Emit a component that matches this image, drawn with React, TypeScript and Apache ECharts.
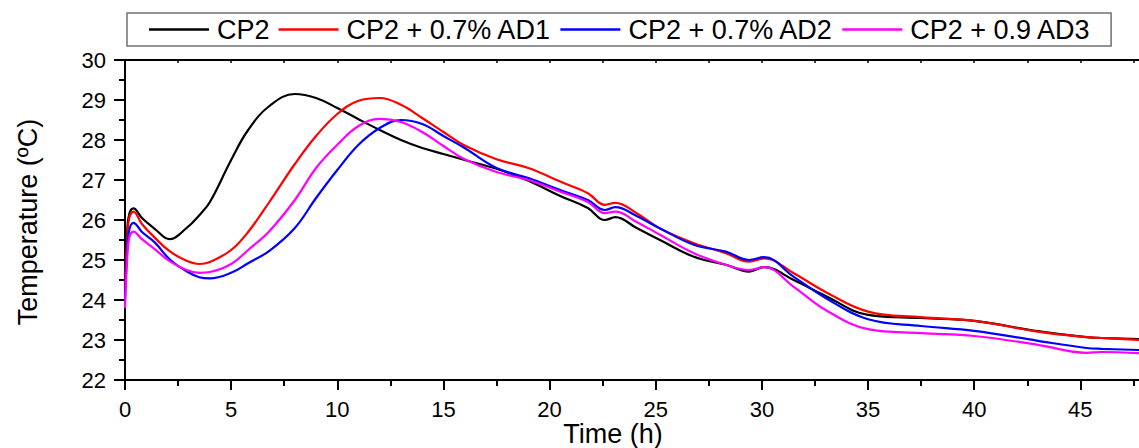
import React, { useEffect, useRef } from "react";
import * as echarts from "echarts";

const times = [0, 0.1, 0.2, 0.4, 0.8, 1.4, 2.1, 2.9, 3.5, 4.0, 5.0, 5.8, 6.8, 8.0, 9.0, 10.0, 11.0, 12.0, 13.0, 14.0, 15.0, 16.0, 17.5, 19.0, 20.5, 21.8, 22.6, 23.1, 24.1, 25.2, 26.8, 28.3, 29.4, 30.1, 31.5, 33.0, 35.0, 37.5, 40.0, 43.0, 45.3, 46.0, 47.8];

const cp2 = [24.6, 25.7, 26.15, 26.29, 26.05, 25.78, 25.52, 25.8, 26.12, 26.45, 27.5, 28.25, 28.85, 29.15, 29.05, 28.8, 28.52, 28.25, 28.0, 27.8, 27.65, 27.5, 27.28, 26.98, 26.6, 26.3, 26.0, 26.07, 25.8, 25.5, 25.08, 24.88, 24.71, 24.82, 24.5, 24.1, 23.63, 23.55, 23.48, 23.22, 23.07, 23.05, 23.02];

const cp2Ad1 = [24.3, 25.5, 26.05, 26.21, 25.9, 25.56, 25.22, 24.98, 24.9, 24.95, 25.25, 25.7, 26.45, 27.4, 28.1, 28.65, 28.98, 29.05, 28.88, 28.55, 28.2, 27.86, 27.52, 27.3, 26.96, 26.67, 26.38, 26.43, 26.17, 25.79, 25.42, 25.17, 24.96, 25.04, 24.67, 24.2, 23.71, 23.57, 23.48, 23.21, 23.07, 23.05, 23.0];

const cp2Ad2 = [24.0, 25.2, 25.75, 25.93, 25.7, 25.44, 25.02, 24.72, 24.57, 24.54, 24.68, 24.92, 25.23, 25.8, 26.55, 27.25, 27.88, 28.3, 28.5, 28.4, 28.1, 27.8, 27.3, 27.05, 26.75, 26.5, 26.25, 26.32, 26.1, 25.79, 25.38, 25.21, 25.0, 25.07, 24.58, 24.05, 23.52, 23.35, 23.23, 22.98, 22.8, 22.78, 22.75];

const cp2Ad3 = [23.8, 25.0, 25.55, 25.71, 25.52, 25.27, 24.97, 24.75, 24.68, 24.7, 24.9, 25.25, 25.72, 26.5, 27.3, 27.88, 28.35, 28.53, 28.45, 28.2, 27.85, 27.52, 27.2, 27.0, 26.71, 26.45, 26.17, 26.21, 25.95, 25.63, 25.17, 24.88, 24.75, 24.82, 24.33, 23.75, 23.27, 23.17, 23.1, 22.88, 22.68, 22.7, 22.67];

const seriesNames = ["CP2", "CP2 + 0.7% AD1", "CP2 + 0.7% AD2", "CP2 + 0.9 AD3"];
const seriesValues = [cp2, cp2Ad1, cp2Ad2, cp2Ad3];
const seriesColors = ["#000000", "#ff0000", "#0000ff", "#ff00ff"];

const xTitle = "Time (h)";
const yTitle = "Temperature (ºC)";

const FONT = "'Liberation Sans', Arial, sans-serif";

export default function App() {
  const ref = useRef<HTMLDivElement>(null);
  useEffect(() => {
    if (!ref.current) return;
    const chart = echarts.init(ref.current, null, { renderer: "svg" });
    const axisLine = { show: true, lineStyle: { color: "#000", width: 2 } };
    chart.setOption({
      animation: false,
      backgroundColor: "#fff",
      textStyle: { fontFamily: FONT },
      legend: {
        left: 127,
        top: 13,
        data: seriesNames,
        icon: "rect",
        itemWidth: 60,
        itemHeight: 2.5,
        itemGap: 9,
        padding: [3, 20, 3, 22],
        borderColor: "#707070",
        borderWidth: 1.5,
        textStyle: { fontSize: 27, color: "#000", fontFamily: FONT, padding: [0, 0, 0, 3] },
      },
      grid: {
        left: 125,
        top: 60,
        width: 1061.5,
        height: 320,
        containLabel: false,
        outerBoundsMode: "none",
      },
      xAxis: [
        {
          type: "value",
          min: 0,
          max: 50,
          interval: 5,
          position: "bottom",
          axisLine,
          axisTick: { show: true, length: 10, inside: false, lineStyle: { color: "#000", width: 2 } },
          minorTick: { show: true, splitNumber: 2, length: 6, lineStyle: { color: "#000", width: 2 } },
          splitLine: { show: false },
          axisLabel: { fontSize: 22, color: "#000", margin: 18, fontFamily: FONT, showMaxLabel: false },
        },
        {
          type: "value",
          min: 0,
          max: 50,
          interval: 5,
          position: "top",
          axisLine,
          axisTick: { show: true, length: 3, inside: true, lineStyle: { color: "#000", width: 1.5 } },
          minorTick: { show: true, splitNumber: 2, length: 3, lineStyle: { color: "#000", width: 1.5 } },
          splitLine: { show: false },
          axisLabel: { show: false },
        },
      ],
      yAxis: {
        type: "value",
        min: 22,
        max: 30,
        interval: 1,
        axisLine,
        axisTick: { show: true, length: 11, inside: false, lineStyle: { color: "#000", width: 2 } },
        minorTick: { show: true, splitNumber: 2, length: 6, lineStyle: { color: "#000", width: 2 } },
        splitLine: { show: false },
        axisLabel: { fontSize: 22, color: "#000", margin: 19, fontFamily: FONT },
      },
      graphic: [
        {
          type: "text",
          x: 28,
          y: 222,
          rotation: Math.PI / 2,
          style: { text: yTitle, font: `27px ${FONT}`, fill: "#000", align: "center", verticalAlign: "middle" },
        },
        {
          type: "text",
          x: 613,
          y: 434,
          style: { text: xTitle, font: `27px ${FONT}`, fill: "#000", align: "center", verticalAlign: "middle" },
        },
      ],
      series: seriesNames.map((name, k) => ({
        name,
        type: "line",
        xAxisIndex: 0,
        showSymbol: false,
        smooth: 0.4,
        color: seriesColors[k],
        lineStyle: { color: seriesColors[k], width: 2.2 },
        data: times.map((t, i) => [t, seriesValues[k][i]]),
      })),
    });
    return () => chart.dispose();
  }, []);
  return (
    <div
      ref={ref}
      style={{ position: "fixed", left: 0, top: 0, width: 1139, height: 448, background: "#fff" }}
    />
  );
}
